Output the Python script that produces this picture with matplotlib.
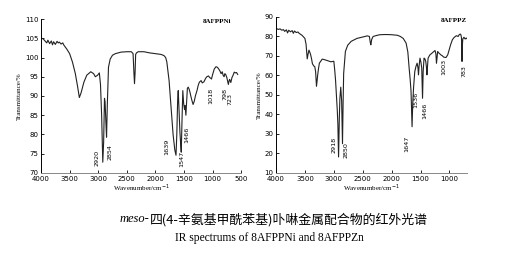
import matplotlib.pyplot as plt

# 8AFPPNi spectrum (wavenumber, transmittance %)
ni_wn = [4000, 3960, 3930, 3900, 3880, 3850, 3820, 3800, 3780, 3750, 3720, 3700, 3680, 3650,
         3620, 3600, 3550, 3500, 3450, 3400, 3360, 3330, 3300, 3250, 3200, 3130, 3080, 3050,
         3010, 2980, 2960, 2940, 2920, 2905, 2890, 2880, 2865, 2854, 2840, 2820, 2790, 2750,
         2700, 2600, 2500, 2420, 2390, 2375, 2365, 2355, 2345, 2330, 2300, 2200, 2100, 2000,
         1900, 1850, 1820, 1800, 1760, 1720, 1690, 1660, 1639, 1625, 1610, 1600, 1585, 1570,
         1555, 1547, 1535, 1520, 1505, 1490, 1480, 1466, 1455, 1440, 1425, 1410, 1395, 1380,
         1360, 1340, 1320, 1300, 1270, 1250, 1230, 1200, 1180, 1150, 1120, 1100, 1070, 1050,
         1030, 1018, 1000, 970, 940, 920, 900, 870, 850, 830, 815, 798, 785, 770, 750, 735,
         723, 710, 700, 680, 660, 640, 620, 600, 580, 560]
ni_tr = [105.1, 104.8, 104.3, 103.8, 104.5, 103.6, 104.3, 103.3, 104.1, 103.4, 104.2, 103.8, 104.0, 103.5,
         103.8, 103.2, 102.2, 101.0, 98.8, 95.8, 92.4, 89.6, 90.8, 93.6, 95.4, 96.3, 95.8, 95.0,
         95.4, 96.0, 93.0, 85.0, 72.8, 78.0, 89.4, 88.5, 83.0, 79.3, 88.0, 97.5, 99.6, 100.6,
         101.0, 101.4, 101.5, 101.5, 101.0, 96.0, 93.2, 96.0, 100.8, 101.2, 101.5, 101.5, 101.2, 101.0,
         100.8, 100.5, 100.0, 98.9, 94.0, 86.0, 80.0, 76.0, 74.6, 80.0, 89.0, 91.4, 86.0, 80.5,
         77.0, 75.4, 83.0, 91.4, 88.0, 86.5, 87.5, 85.0, 88.0, 92.0, 92.3, 91.8, 91.0, 90.0,
         88.8, 87.8, 88.6, 90.0, 91.5, 92.8, 93.6, 94.0, 93.4, 93.7, 94.6, 95.0, 95.2, 94.8,
         94.6, 94.4, 95.5, 97.0, 97.6, 97.5, 97.2, 96.5, 95.8, 96.3, 95.4, 95.0, 95.8, 95.6, 94.8, 93.8,
         93.0, 94.0, 94.3, 93.5, 94.8, 95.4, 96.2, 96.0, 96.1, 95.6]

# 8AFPPZn spectrum
zn_wn = [4000, 3960, 3930, 3900, 3870, 3850, 3820, 3800, 3780, 3750, 3720, 3700, 3680, 3650,
         3620, 3600, 3550, 3500, 3480, 3460, 3445, 3430, 3410, 3400, 3385, 3370, 3345, 3330,
         3315, 3300, 3290, 3280, 3265, 3250, 3200, 3150, 3100, 3050, 3000, 2985, 2970, 2955,
         2940, 2930, 2918, 2905, 2895, 2880, 2865, 2850, 2840, 2830, 2800, 2760, 2700, 2600,
         2500, 2420, 2385, 2370, 2360, 2345, 2320, 2250, 2200, 2100, 2000, 1900, 1850, 1800,
         1750, 1720, 1700, 1680, 1665, 1647, 1635, 1620, 1600, 1580, 1560, 1545, 1536, 1525,
         1510, 1495, 1480, 1466, 1455, 1440, 1425, 1410, 1398, 1390, 1380, 1370, 1340, 1300,
         1270, 1250, 1235, 1225, 1215, 1205, 1180, 1150, 1120, 1100, 1060, 1030, 1003, 980,
         950, 920, 880, 850, 830, 810, 800, 792, 788, 783, 778, 770, 750, 730, 710, 700]
zn_tr = [84.2, 83.6, 83.9, 83.2, 83.5, 82.6, 83.4, 81.8, 83.2, 82.4, 83.0, 81.6, 82.8, 82.0,
         82.3, 81.6, 80.6, 79.0, 76.0, 68.5, 71.0, 73.0, 71.5, 70.5, 68.5, 66.0, 64.8, 64.6,
         62.0, 54.5, 57.0, 60.0, 63.5, 66.3, 68.4, 68.0, 67.5, 67.0, 67.3, 63.0, 57.5, 49.5,
         42.0, 35.0, 18.2, 38.0, 48.3, 54.0, 47.0, 25.0, 45.0, 61.0, 72.3, 75.5, 77.5, 79.0,
         79.7, 80.3, 80.0, 77.0, 75.7, 78.5, 80.0, 80.6, 80.9, 81.0, 80.9, 80.6, 80.0, 79.0,
         76.6, 72.0, 64.6, 58.0, 52.0, 33.7, 46.0, 54.3, 62.0, 64.6, 66.3, 64.0, 60.3, 65.0,
         68.9, 67.0, 64.0, 48.3, 62.0, 68.9, 68.5, 67.2, 64.0, 60.3, 65.0, 68.9, 70.5, 71.5,
         72.3, 72.8, 71.0, 66.3, 69.0, 72.3, 71.4, 70.6, 70.0, 69.4, 69.2, 70.6, 73.5, 75.8,
         78.3, 79.5, 80.4, 80.0, 81.0, 81.2, 80.6, 79.0, 74.0, 67.2, 75.0, 78.7, 79.6, 78.7, 79.2, 78.9]

ni_peaks = ['2920', '2854', '1639', '1547', '1466', '1018', '798', '723']
ni_peak_x = [3020, 2790, 1795, 1530, 1445, 1036, 775, 690]
ni_peak_y = [74.0, 75.4, 76.7, 73.7, 80.0, 90.0, 90.6, 89.2]

zn_peaks = ['2918', '2850', '1647', '1536', '1466', '1003', '783']
zn_peak_x = [2994, 2793, 1736, 1592, 1420, 1092, 741]
zn_peak_y = [24.3, 21.7, 25.0, 47.4, 42.0, 64.6, 62.0]

serif = 'Liberation Serif'
fig = plt.figure(figsize=(5.13, 2.57), dpi=100)


def style(ax):
    for s in ['top', 'right']:
        ax.spines[s].set_visible(False)
    for s in ['left', 'bottom']:
        ax.spines[s].set_linewidth(0.7)
    ax.spines['bottom'].set_color('#888888')
    ax.tick_params(direction='in', length=2, width=0.6, labelsize=5, pad=2)
    for lab in ax.get_xticklabels() + ax.get_yticklabels():
        lab.set_fontfamily('DejaVu Sans')
    ax.set_xlabel('Wavenumber/cm$^{-1}$', fontsize=5, family=serif, labelpad=1)
    ax.set_ylabel('Transmittance/%', fontsize=5, family=serif, labelpad=2)


ax1 = fig.add_axes([0.080, 0.327, 0.390, 0.599])
ax1.plot(ni_wn, ni_tr, color='#222222', lw=0.8)
ax1.set_xlim(4000, 500)
ax1.set_ylim(70, 110)
ax1.set_xticks([4000, 3500, 3000, 2500, 2000, 1500, 1000, 500])
ax1.set_yticks(range(70, 111, 5))
style(ax1)
for t, x, y in zip(ni_peaks, ni_peak_x, ni_peak_y):
    ax1.text(x, y, t, rotation=90, fontsize=4.6, family='DejaVu Sans', ha='center', va='center')
ax1.text(920, 109.3, '8AFPPNi', fontsize=5, family=serif, weight='bold', ha='center', va='center')

ax2 = fig.add_axes([0.538, 0.327, 0.372, 0.607])
ax2.plot(zn_wn, zn_tr, color='#222222', lw=0.8)
ax2.set_xlim(4000, 700)
ax2.set_ylim(10, 90)
ax2.set_xticks([4000, 3500, 3000, 2500, 2000, 1500, 1000])
ax2.set_yticks(range(10, 91, 10))
style(ax2)
for t, x, y in zip(zn_peaks, zn_peak_x, zn_peak_y):
    ax2.text(x, y, t, rotation=90, fontsize=4.6, family='DejaVu Sans', ha='center', va='center')
ax2.text(700, 88.0, '8AFPPZ', fontsize=5, family=serif, weight='bold', ha='right', va='center')

fig.text(0.234, 0.147, 'meso-', fontsize=9, family=serif, style='italic', ha='left', va='center')
fig.text(0.292, 0.147, '四(4-辛氨基甲酰苯基)卟啉金属配合物的红外光谱', fontsize=9.3,
         family=['Noto Sans CJK SC', 'DejaVu Sans'], ha='left', va='center')
fig.text(0.525, 0.074, 'IR spectrums of 8AFPPNi and 8AFPPZn', fontsize=8.3, family=serif,
         ha='center', va='center')

fig.savefig('out.png', dpi=100)
